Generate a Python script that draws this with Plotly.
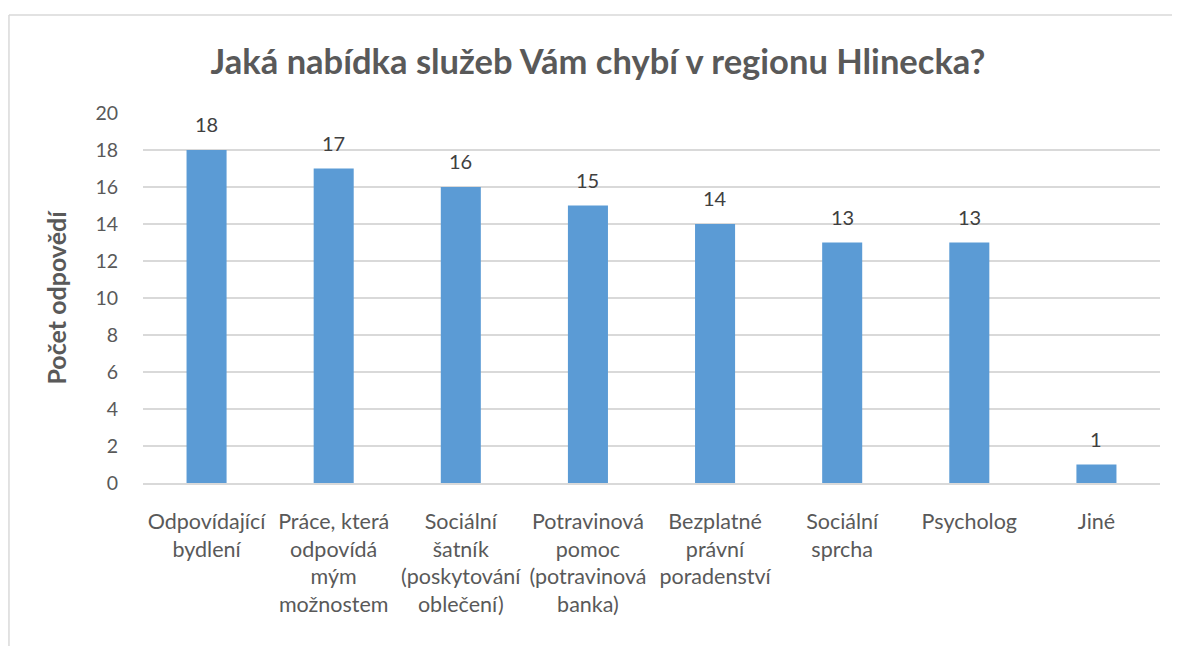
import plotly.graph_objects as go

categories = [
    "Odpovídající<br>bydlení",
    "Práce, která<br>odpovídá<br>mým<br>možnostem",
    "Sociální<br>šatník<br>(poskytování<br>oblečení)",
    "Potravinová<br>pomoc<br>(potravinová<br>banka)",
    "Bezplatné<br>právní<br>poradenství",
    "Sociální<br>sprcha",
    "Psycholog",
    "Jiné",
]
values = [18, 17, 16, 15, 14, 13, 13, 1]
y_ticks = [0, 2, 4, 6, 8, 10, 12, 14, 16, 18, 20]

FONT = "Lato"
fig = go.Figure()
fig.add_trace(go.Bar(
    x=categories, y=values,
    marker=dict(color="#5B9BD5", line=dict(width=0)),
    hoverinfo="x+y",
))

for c, v in zip(categories, values):
    fig.add_annotation(x=c, y=v, text=str(v), showarrow=False,
                       yanchor="bottom", yshift=12,
                       font=dict(family=FONT, size=20, color="#404040"))

fig.update_layout(
    width=1180, height=646,
    margin=dict(l=135, r=28, t=105, b=171),
    paper_bgcolor="white", plot_bgcolor="white",
    bargap=0.685,
    showlegend=False,
    title=dict(text="<b>Jaká nabídka služeb Vám chybí v regionu Hlinecka?</b>",
               x=0.5, xanchor="center", y=0.916, yanchor="middle",
               font=dict(family=FONT, size=34.5, color="#595959")),
    font=dict(family=FONT, size=19, color="#595959"),
)
fig.update_xaxes(
    type="category", showgrid=False, ticks="", showline=True,
    linecolor="#D9D9D9", linewidth=1.5,
    tickfont=dict(family=FONT, size=21.5, color="#595959"),
    ticklabelstandoff=18,
)
fig.update_yaxes(
    range=[0, 20], tickvals=y_ticks, showgrid=True, gridcolor="#D9D9D9",
    gridwidth=1.5, zeroline=False, ticks="", showline=False,
    tickfont=dict(family=FONT, size=19.5, color="#595959"),
    ticklabelstandoff=24,
    title=dict(text="<b>Počet odpovědí</b>", standoff=21,
               font=dict(family=FONT, size=25, color="#595959")),
)

# chart frame (outer border)
fig.add_shape(type="line", xref="paper", yref="paper",
              x0=-0.1318, x1=-0.1318, y0=-0.6, y1=1.2649,
              line=dict(color="#D9D9D9", width=1.5))
fig.add_shape(type="line", xref="paper", yref="paper",
              x0=-0.1318, x1=1.1, y0=1.2649, y1=1.2649,
              line=dict(color="#D9D9D9", width=1.5))

fig.write_html("out.html")
